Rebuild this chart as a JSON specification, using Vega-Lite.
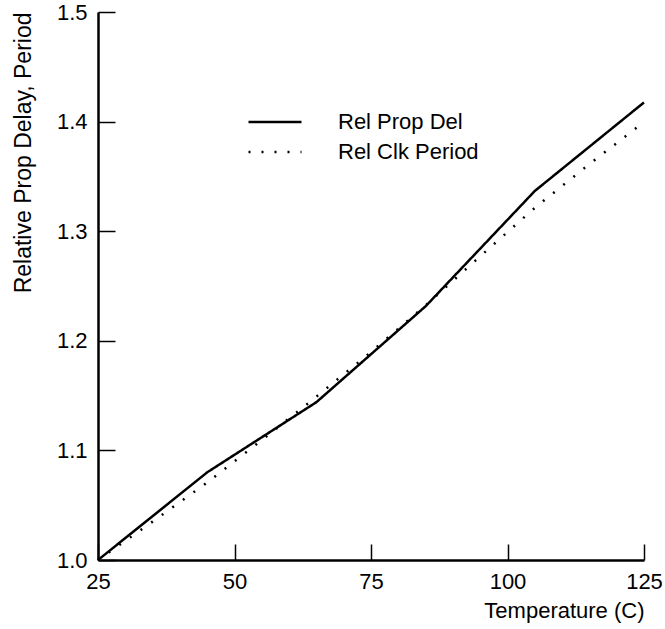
{
  "$schema": "https://vega.github.io/schema/vega-lite/v6.json",
  "width": 546,
  "height": 548,
  "autosize": {"type": "none"},
  "padding": {"left": 98, "top": 12, "right": 21, "bottom": 69},
  "background": "white",
  "config": {
    "view": {"stroke": null},
    "font": "Liberation Sans",
    "axis": {
      "grid": false,
      "domainColor": "black",
      "domainWidth": 2.5,
      "tickColor": "black",
      "tickWidth": 1.5,
      "labelColor": "black",
      "titleColor": "black",
      "labelFont": "Liberation Sans",
      "titleFont": "Liberation Sans",
      "labelFontSize": 22,
      "titleFontSize": 22,
      "titleFontWeight": "normal"
    },
    "legend": {"labelFont": "Liberation Sans", "labelFontSize": 22, "labelColor": "black"}
  },
  "data": {
    "values": [
      {"temp": 25, "value": 1.0, "series": "Rel Prop Del"},
      {"temp": 45, "value": 1.08, "series": "Rel Prop Del"},
      {"temp": 65, "value": 1.144, "series": "Rel Prop Del"},
      {"temp": 85, "value": 1.2315, "series": "Rel Prop Del"},
      {"temp": 105, "value": 1.3367, "series": "Rel Prop Del"},
      {"temp": 125, "value": 1.4175, "series": "Rel Prop Del"},
      {"temp": 25, "value": 1.0, "series": "Rel Clk Period"},
      {"temp": 35, "value": 1.035, "series": "Rel Clk Period"},
      {"temp": 45, "value": 1.0707, "series": "Rel Clk Period"},
      {"temp": 55, "value": 1.1094, "series": "Rel Clk Period"},
      {"temp": 65, "value": 1.149, "series": "Rel Clk Period"},
      {"temp": 75, "value": 1.1898, "series": "Rel Clk Period"},
      {"temp": 85, "value": 1.2323, "series": "Rel Clk Period"},
      {"temp": 95, "value": 1.2771, "series": "Rel Clk Period"},
      {"temp": 105, "value": 1.3213, "series": "Rel Clk Period"},
      {"temp": 115, "value": 1.3612, "series": "Rel Clk Period"},
      {"temp": 125, "value": 1.3996, "series": "Rel Clk Period"}
    ]
  },
  "mark": {"type": "line", "color": "black", "strokeWidth": 2.5, "strokeCap": "butt"},
  "encoding": {
    "x": {
      "field": "temp",
      "type": "quantitative",
      "scale": {"domain": [25, 125], "nice": false, "zero": false},
      "axis": {
        "values": [25, 50, 75, 100, 125],
        "tickSize": -16,
        "labelPadding": 27,
        "labelFlush": false,
        "title": "Temperature (C)",
        "titleAnchor": "end",
        "titleAlign": "right",
        "titleBaseline": "alphabetic",
        "titleX": 546,
        "titleY": 57
      }
    },
    "y": {
      "field": "value",
      "type": "quantitative",
      "scale": {"domain": [1.0, 1.5], "nice": false, "zero": false},
      "axis": {
        "values": [1.0, 1.1, 1.2, 1.3, 1.4, 1.5],
        "format": ".1f",
        "tickSize": -17,
        "labelPadding": 28,
        "labelFlush": false,
        "title": "Relative Prop Delay, Period",
        "titleFontSize": 23,
        "titleAngle": -90,
        "titleAlign": "right",
        "titleBaseline": "middle",
        "titleX": -75,
        "titleY": 0
      }
    },
    "strokeDash": {
      "field": "series",
      "type": "nominal",
      "scale": {"domain": ["Rel Prop Del", "Rel Clk Period"], "range": [[1, 0], [2, 11]]},
      "legend": {
        "title": null,
        "orient": "none",
        "legendX": 149,
        "legendY": 95,
        "padding": 0,
        "symbolType": "stroke",
        "symbolSize": 2809,
        "symbolStrokeWidth": 2.5,
        "symbolStrokeColor": "black",
        "clipHeight": 30,
        "rowPadding": 0,
        "labelOffset": 35
      }
    }
  }
}
